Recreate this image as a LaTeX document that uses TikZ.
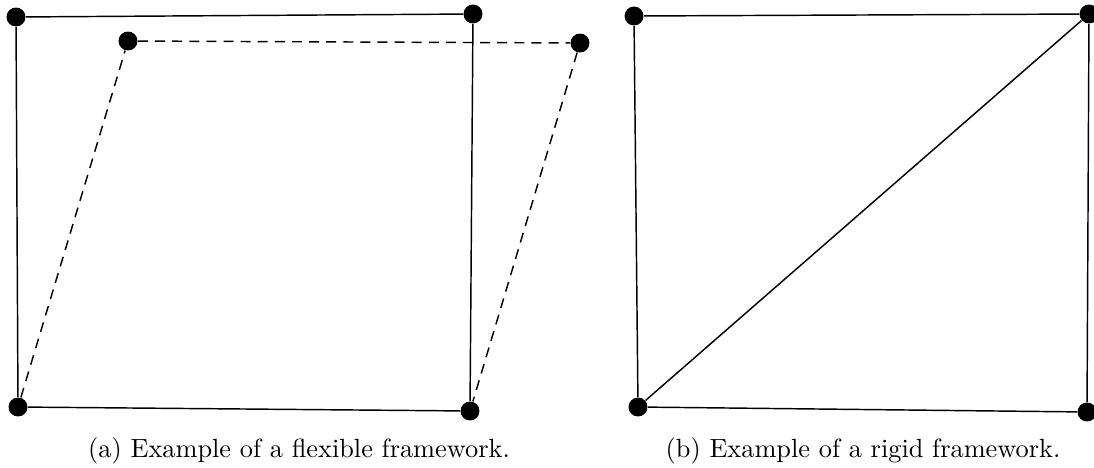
\documentclass[tikz,border=0pt]{standalone}
\usepackage{amssymb, amsmath}
\usetikzlibrary{positioning}

\begin{document}
\begin{tikzpicture}[x=0.38pt,y=-0.38pt,font=\normalsize]
  \tikzset{
    vertex/.style={circle,fill=black,inner sep=0pt,minimum size=7.2pt},
    bar/.style={line width=0.55pt},
    flexbar/.style={line width=0.55pt,dash pattern=on 3.8pt off 2.7pt},
  }
  \useasboundingbox (0,0) rectangle (1094,467);
  % flexible framework
  \node[vertex] (a1) at (16,17) {};
  \node[vertex] (a2) at (473,14) {};
  \node[vertex] (a3) at (18,407) {};
  \node[vertex] (a4) at (470,411) {};
  \node[vertex] (a5) at (128,41) {};
  \node[vertex] (a6) at (580,43) {};
  \draw[bar] (a1) -- (a2) -- (a4) -- (a3) -- (a1);
  \draw[flexbar] (a3) -- (a5) -- (a6) -- (a4);
  \node[anchor=base] (capa) at (299,457) {(a) Example of a flexible framework.};
  % rigid framework
  \node[vertex] (b1) at (634,16) {};
  \node[vertex] (b2) at (1089,14) {};
  \node[vertex] (b3) at (638,407) {};
  \node[vertex] (b4) at (1087,412) {};
  \draw[bar] (b1) -- (b2) -- (b4) -- (b3) -- (b1);
  \draw[bar] (b3) -- (b2);
  \node[anchor=base] (capb) at (863,457) {(b) Example of a rigid framework.};
\end{tikzpicture}
\end{document}
